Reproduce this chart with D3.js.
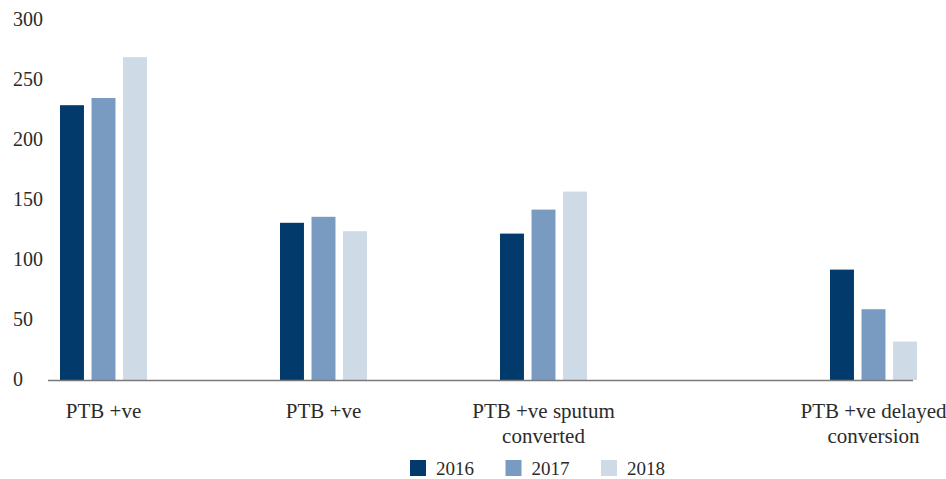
<!DOCTYPE html>
<html>
<head>
<meta charset="utf-8">
<script src="https://cdn.jsdelivr.net/npm/d3@7"></script>
<style>
  html, body { margin: 0; padding: 0; background: #fff; }
  svg { display: block; }
  text { font-family: "Liberation Serif", "DejaVu Serif", serif; fill: #2b2b2b; }
</style>
</head>
<body>
<svg id="chart" width="946" height="479"></svg>
<script>
// Category labels (split into lines as shown under each group)
const categories = [
  ["PTB +ve"],
  ["PTB +ve"],
  ["PTB +ve sputum", "converted"],
  ["PTB +ve delayed", "conversion"]
];
const years = ["2016", "2017", "2018"];
const values2016 = [229, 131, 122, 92];
const values2017 = [235, 136, 142, 59];
const values2018 = [269, 124, 157, 32];
const yTicks = [0, 50, 100, 150, 200, 250, 300];

const seriesValues = [values2016, values2017, values2018];
const colors = ["#023a6c", "#7a9bc1", "#cfdae7"];

const svg = d3.select("#chart");

const y = d3.scaleLinear().domain([0, 300]).range([380, 20]);

// Group centres along the category axis (last group sits further right)
const groupX = d3.scaleOrdinal()
  .domain(d3.range(categories.length))
  .range([103.5, 323.5, 543.5, 873.5]);

// Position of each year's bar within a group
const inner = d3.scaleBand()
  .domain(years)
  .range([-43.5, 43.5])
  .paddingInner(0.24);

const color = d3.scaleOrdinal().domain(years).range(colors);

// Y tick labels (left aligned, no tick marks)
svg.append("g")
  .selectAll("text")
  .data(yTicks)
  .join("text")
  .attr("x", 13)
  .attr("y", d => y(d) + 6)
  .attr("font-size", 20)
  .text(d => d);

// Bars
const groups = svg.append("g")
  .selectAll("g")
  .data(categories.map((c, i) => i))
  .join("g")
  .attr("transform", i => `translate(${groupX(i)},0)`);

groups.selectAll("rect")
  .data(i => years.map((yr, s) => ({ year: yr, value: seriesValues[s][i] })))
  .join("rect")
  .attr("x", d => inner(d.year))
  .attr("width", inner.bandwidth())
  .attr("y", d => y(d.value))
  .attr("height", d => y(0) - y(d.value))
  .attr("fill", d => color(d.year));

// Baseline
svg.append("line")
  .attr("x1", 48).attr("x2", 913)
  .attr("y1", y(0) + 0.5).attr("y2", y(0) + 0.5)
  .attr("stroke", "#7a7a7a")
  .attr("stroke-width", 1.6);

// Category labels
const labels = svg.append("g")
  .selectAll("text")
  .data(categories.map((lines, i) => ({ lines, i })))
  .join("text")
  .attr("text-anchor", "middle")
  .attr("font-size", 21)
  .attr("transform", d => `translate(${groupX(d.i)},418)`);

labels.selectAll("tspan")
  .data(d => d.lines)
  .join("tspan")
  .attr("x", 0)
  .attr("y", (d, k) => k * 25)
  .text(d => d);

// Legend
const legendX = d3.scalePoint().domain(years).range([410, 601]);
const legend = svg.append("g")
  .selectAll("g")
  .data(years)
  .join("g")
  .attr("transform", d => `translate(${legendX(d)},460)`);

legend.append("rect")
  .attr("width", 16).attr("height", 16)
  .attr("fill", d => color(d));

legend.append("text")
  .attr("x", 26)
  .attr("y", 15)
  .attr("font-size", 19)
  .text(d => d);
</script>
</body>
</html>
